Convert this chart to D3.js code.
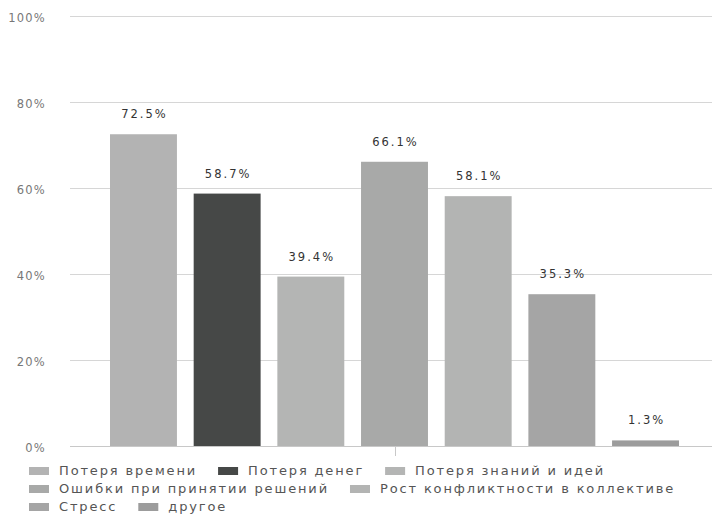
<!DOCTYPE html>
<html>
<head>
<meta charset="utf-8">
<script src="https://cdn.jsdelivr.net/npm/d3@7"></script>
<style>
  html, body { margin: 0; padding: 0; background: #fff; }
  svg { display: block; font-family: "DejaVu Sans", sans-serif; }
</style>
</head>
<body>
<svg id="chart" width="712" height="514"></svg>
<script>
// Survey answers: consequences of poor knowledge sharing (percent of respondents)
const categories = [
  "Потеря времени",
  "Потеря денег",
  "Потеря знаний и идей",
  "Ошибки при принятии решений",
  "Рост конфликтности в коллективе",
  "Стресс",
  "другое"
];
const values = [72.5, 58.7, 39.4, 66.1, 58.1, 35.3, 1.3];
const colors = ["#b3b3b3", "#464847", "#b4b5b4", "#a8a9a8", "#b3b4b3", "#a5a5a5", "#9c9c9c"];
const yTicks = [0, 20, 40, 60, 80, 100];

const svg = d3.select("#chart");

const y = d3.scaleLinear().domain([0, 100]).range([446, 16]);
const x = d3.scaleBand().domain(categories).range([110, 679])
  .paddingInner(0.2).paddingOuter(0);

// horizontal grid lines
svg.append("g")
  .selectAll("line")
  .data(yTicks)
  .join("line")
  .attr("x1", 70).attr("x2", 712)
  .attr("y1", d => Math.round(y(d)) + 0.5)
  .attr("y2", d => Math.round(y(d)) + 0.5)
  .attr("stroke", d => d === 0 ? "#c8c8c8" : "#d6d6d6")
  .attr("stroke-width", 1);

// y axis labels
svg.append("g")
  .selectAll("text")
  .data(yTicks)
  .join("text")
  .attr("x", 46)
  .attr("y", d => y(d) + 6)
  .attr("text-anchor", "end")
  .attr("font-size", 11.5)
  .attr("letter-spacing", 1.2)
  .attr("fill", "#777")
  .text(d => d + "%");

// bars
svg.append("g")
  .selectAll("rect")
  .data(values)
  .join("rect")
  .attr("x", (d, i) => x(categories[i]))
  .attr("width", x.bandwidth())
  .attr("y", d => y(d))
  .attr("height", d => y(0) - y(d))
  .attr("fill", (d, i) => colors[i]);

// value labels above bars
svg.append("g")
  .selectAll("text")
  .data(values)
  .join("text")
  .attr("x", (d, i) => x(categories[i]) + x.bandwidth() / 2 + 1)
  .attr("y", d => y(d) - 16)
  .attr("text-anchor", "middle")
  .attr("font-size", 11.5)
  .attr("letter-spacing", 2)
  .attr("fill", "#333")
  .text(d => d.toFixed(1) + "%");

// small category tick under the axis
const mid = (x.range()[0] + x.range()[1]) / 2;
svg.append("line")
  .attr("x1", Math.round(mid) + 0.5).attr("x2", Math.round(mid) + 0.5)
  .attr("y1", 446).attr("y2", 456)
  .attr("stroke", "#c8c8c8");

// legend laid out in flowing rows
const legend = svg.append("g");
const legendLeft = 29, legendRight = 700, rowY0 = 475, rowGap = 18;
let cx = legendLeft, row = 0;
categories.forEach((c, i) => {
  const g = legend.append("g");
  const t = g.append("text")
    .attr("font-size", 13)
    .attr("letter-spacing", 1.85)
    .attr("fill", "#555")
    .text(c);
  const w = t.node().getComputedTextLength();
  const itemW = 20 + 10 + w;
  if (cx + itemW > legendRight && cx > legendLeft) {
    row += 1;
    cx = legendLeft;
  }
  const base = rowY0 + row * rowGap;
  g.append("rect")
    .attr("x", cx).attr("y", base - 8)
    .attr("width", 20).attr("height", 8)
    .attr("fill", colors[i]);
  t.attr("x", cx + 30).attr("y", base);
  cx += itemW + 21;
});
</script>
</body>
</html>
